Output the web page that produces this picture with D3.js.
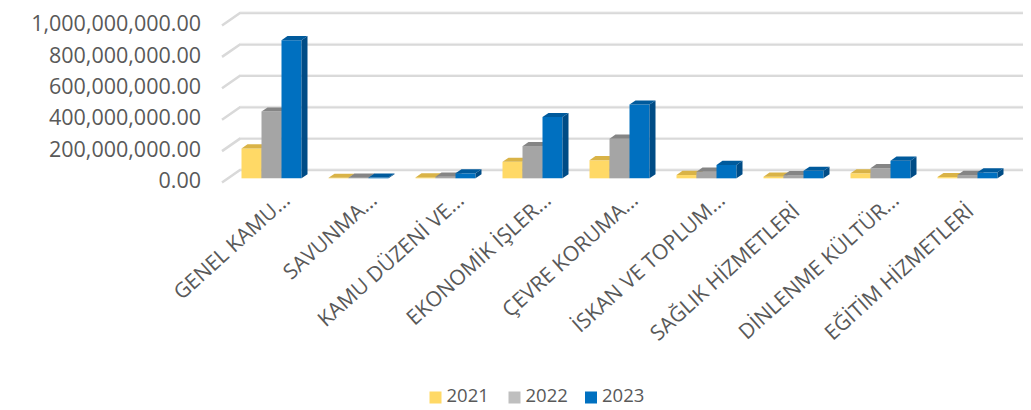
<!DOCTYPE html>
<html>
<head>
<meta charset="utf-8">
<script src="https://cdn.jsdelivr.net/npm/d3@7"></script>
<style>
  body { margin: 0; background: #fff; }
  svg text { font-family: "Open Sans", sans-serif; fill: #595959; }
</style>
</head>
<body>
<svg id="chart" width="1031" height="410"></svg>
<script>
// categories (truncated like the source chart)
const categories = ["GENEL KAMU", "SAVUNMA", "KAMU DÜZENİ VE", "EKONOMİK İŞLER", "ÇEVRE KORUMA",
    "İSKAN VE TOPLUM", "SAĞLIK HİZMETLERİ", "DİNLENME KÜLTÜR", "EĞİTİM HİZMETLERİ"];
const truncated = [true, true, true, true, true, true, false, true, false];
const years = ["2021", "2022", "2023"];
// values in TL
const values2021 = [190e6, 3e6, 6e6, 105e6, 115e6, 21e6, 10e6, 32e6, 8e6];
const values2022 = [425e6, 4e6, 10e6, 205e6, 252e6, 42e6, 20e6, 64e6, 21e6];
const values2023 = [880e6, 5e6, 32e6, 390e6, 470e6, 85e6, 48e6, 112e6, 38e6];
const yTicks = [0, 200e6, 400e6, 600e6, 800e6, 1000e6];

var series = [values2021, values2022, values2023];
var colors = {
    "2021": { front: "#ffd966", top: "#d9b347", side: "#c9a43e", key: "#ffd966" },
    "2022": { front: "#a5a5a5", top: "#858585", side: "#7a7a7a", key: "#bfbfbf" },
    "2023": { front: "#0070c0", top: "#005a9c", side: "#004c86", key: "#0070c0" }
};

var svg = d3.select("#chart");

// 3D frame: front-left corner of the floor, and the depth vector
var x0 = 222, base = 182.5;
var depthX = 18, depthY = -12.5;
var plotW = 783;

var y = d3.scaleLinear().domain([0, 1e9]).range([0, 157]);
var x = d3.scaleBand().domain(categories).range([0, plotW]);
var barW = 20;
var xInner = d3.scaleBand().domain(years).range([0, barW * 3]);
var padL = (x.bandwidth() - barW * 3) / 2;

// screen point from (x offset, value, depth 0..1)
function pt(px, v, z) {
    return [x0 + px + z * depthX, base - y(v) + z * depthY];
}

// gridlines: back wall + left wall stubs
var grid = svg.append("g");
yTicks.forEach(function (t) {
    var a = pt(0, t, 0), b = pt(0, t, 1), c = pt(plotW, t, 1);
    grid.append("path")
        .attr("d", "M" + a + "L" + b + "L" + c)
        .attr("fill", "none")
        .attr("stroke", "#d9d9d9")
        .attr("stroke-width", 2.5);
    grid.append("path")
        .attr("d", "M" + b + "L" + c)
        .attr("fill", "none")
        .attr("stroke", "#f2f2f2")
        .attr("stroke-width", 0.8)
        .attr("transform", "translate(0,-1.2)");
});

// y axis labels
svg.append("g").selectAll("text")
    .data(yTicks)
    .enter()
    .append("text")
    .attr("x", 201)
    .attr("y", d => base - y(d))
    .attr("text-anchor", "end")
    .attr("dominant-baseline", "middle")
    .style("font-size", "21.5px")
    .text(d => d3.format(",.2f")(d));

// bars, drawn left to right so each bar hides the side of the previous one
var bars = svg.append("g");
var z1 = 1 / 3, z2 = 2 / 3;
categories.forEach(function (c, ci) {
    years.forEach(function (yr, si) {
        var v = series[si][ci];
        var l = x(c) + padL + xInner(yr), r = l + barW;
        var col = colors[yr];
        var poly = function (pts) { return "M" + pts.join("L") + "Z"; };
        bars.append("path")
            .attr("d", poly([pt(l, 0, z1), pt(r, 0, z1), pt(r, v, z1), pt(l, v, z1)]))
            .attr("fill", col.front);
        bars.append("path")
            .attr("d", poly([pt(r, 0, z1), pt(r, 0, z2), pt(r, v, z2), pt(r, v, z1)]))
            .attr("fill", col.side);
        bars.append("path")
            .attr("d", poly([pt(l, v, z1), pt(r, v, z1), pt(r, v, z2), pt(l, v, z2)]))
            .attr("fill", col.top);
    });
});

// category labels, rotated; the ellipsis hangs past the tick like in Excel
var labels = svg.append("g");
categories.forEach(function (c, ci) {
    var p = pt(x(c) + x.bandwidth() / 2 - 2.5, 0, 1 / 3);
    var g = labels.append("g")
        .attr("transform", "translate(" + p[0] + "," + (p[1] + 23.5) + ") rotate(-42)");
    g.append("text")
        .attr("text-anchor", "end")
        .attr("dy", "0.72em")
        .style("font-size", "21px")
        .text(c);
    if (truncated[ci]) {
        g.append("text")
            .attr("dy", "0.72em")
            .style("font-size", "21px")
            .text("...");
    }
});

// legend
var legend = svg.append("g");
var legendX = [429.5, 508.5, 585];
years.forEach(function (yr, i) {
    legend.append("rect")
        .attr("x", legendX[i])
        .attr("y", 391.5)
        .attr("width", 12)
        .attr("height", 12)
        .attr("fill", colors[yr].key);
    legend.append("text")
        .attr("x", legendX[i] + 17)
        .attr("y", 397.5)
        .attr("dominant-baseline", "middle")
        .style("font-size", "18.5px")
        .text(yr);
});
</script>
</body>
</html>
